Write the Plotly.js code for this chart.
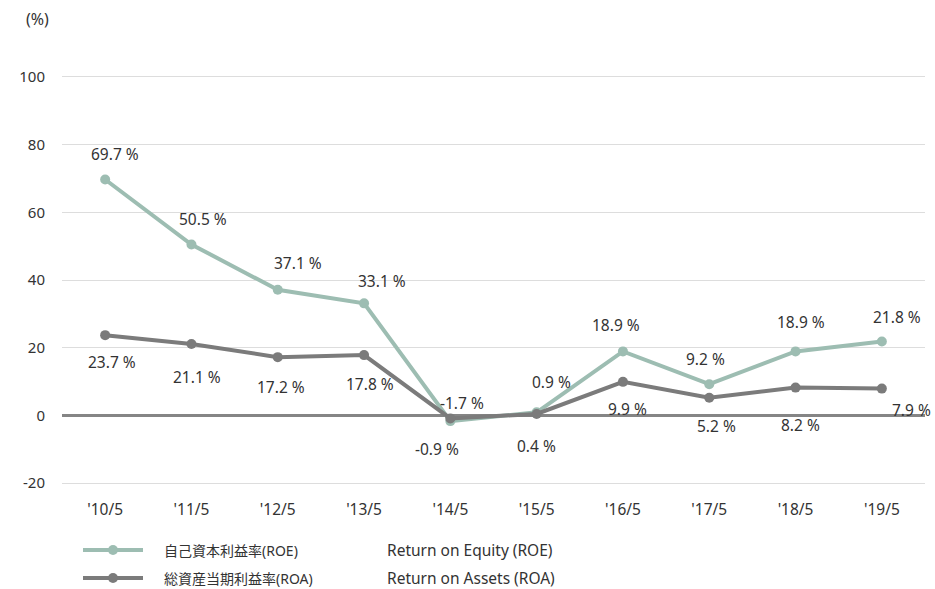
<!DOCTYPE html>
<html>
<head>
<meta charset="utf-8">
<script src="https://cdn.plot.ly/plotly-3.0.1.min.js"></script>
<style>
html,body{margin:0;padding:0;background:#fff;}
#chart{width:935px;height:589px;}
</style>
</head>
<body>
<div id="chart"></div>
<script>
// ---- data ----
const categories = ["'10/5", "'11/5", "'12/5", "'13/5", "'14/5", "'15/5", "'16/5", "'17/5", "'18/5", "'19/5"];
const roeValues = [69.7, 50.5, 37.1, 33.1, -1.7, 0.9, 18.9, 9.2, 18.9, 21.8];
const roaValues = [23.7, 21.1, 17.2, 17.8, -0.9, 0.4, 9.9, 5.2, 8.2, 7.9];
const roeNameJa = "自己資本利益率(ROE)";
const roaNameJa = "総資産当期利益率(ROA)";
const roeNameEn = "Return on Equity (ROE)";
const roaNameEn = "Return on Assets (ROA)";
const yTickValues = [-20, 0, 20, 40, 60, 80, 100];
const yTickLabels = ["-20", "0", "20", "40", "60", "80", "100"];
const yUnit = "(%)";

// ---- label offsets (px) ----
const roeLabelDx = [10, 12, 20, 18, 12, 15, -7, -4, 5, 15];
const roeLabelDy = [26, 25, 27, 22, 18, 30, 26, 25, 29, 25];
const roaLabelDx = [7, 6, 3, 6, -13, 0, 5, 7, 5, 30];
const roaLabelDy = [-27, -33, -30, -29, -31, -32, -27, -28, -37, -21];

const FONT = "'Noto Sans', 'Noto Sans CJK JP', sans-serif";
const TEXT = "#333333";
const ROE_COLOR = "#9dbdb2";
const ROA_COLOR = "#7b7b7b";

// plot area geometry (px)
const PL = 62, PR = 925, PT = 77, PB = 483;
const PW = PR - PL, PH = PB - PT;
const px2x = p => (p - PL) / PW;
const py2y = p => (PB - p) / PH;

const traces = [
  {
    type: "scatter", mode: "lines+markers", name: roeNameJa,
    x: categories, y: roeValues,
    line: {color: ROE_COLOR, width: 4},
    marker: {color: ROE_COLOR, size: 10},
    hoverinfo: "skip", cliponaxis: false
  },
  {
    type: "scatter", mode: "lines+markers", name: roaNameJa,
    x: categories, y: roaValues,
    line: {color: ROA_COLOR, width: 4},
    marker: {color: ROA_COLOR, size: 10},
    hoverinfo: "skip", cliponaxis: false
  }
];

const annotations = [];
const shapes = [];
categories.forEach((c, i) => {
  annotations.push({
    x: c, y: roeValues[i], xref: "x", yref: "y",
    text: roeValues[i].toFixed(1) + " %", showarrow: false,
    xshift: roeLabelDx[i], yshift: roeLabelDy[i],
    font: {family: FONT, size: 15.5, color: TEXT}
  });
  annotations.push({
    x: c, y: roaValues[i], xref: "x", yref: "y",
    text: roaValues[i].toFixed(1) + " %", showarrow: false,
    xshift: roaLabelDx[i], yshift: roaLabelDy[i],
    font: {family: FONT, size: 15.5, color: TEXT}
  });
});
annotations.push({
  xref: "paper", yref: "paper", x: px2x(37), y: py2y(19), xanchor: "center", yanchor: "middle",
  text: yUnit, showarrow: false,
  font: {family: FONT, size: 16, color: TEXT}
});

// manual legend
const legendRows = [
  {ja: roeNameJa, en: roeNameEn, color: ROE_COLOR, y: 550},
  {ja: roaNameJa, en: roaNameEn, color: ROA_COLOR, y: 578}
];
legendRows.forEach(r => {
  shapes.push({
    type: "line", xref: "paper", yref: "paper",
    x0: px2x(83), x1: px2x(143), y0: py2y(r.y), y1: py2y(r.y),
    line: {color: r.color, width: 4}
  });
  shapes.push({
    type: "circle", xref: "paper", yref: "paper",
    xsizemode: "pixel", ysizemode: "pixel",
    xanchor: px2x(113), yanchor: py2y(r.y),
    x0: -5, x1: 5, y0: -5, y1: 5,
    fillcolor: r.color, line: {width: 0}
  });
  annotations.push({
    xref: "paper", yref: "paper", x: px2x(162), y: py2y(r.y),
    xanchor: "left", yanchor: "middle", text: r.ja, showarrow: false,
    font: {family: FONT, size: 14, color: TEXT}
  });
  annotations.push({
    xref: "paper", yref: "paper", x: px2x(385), y: py2y(r.y),
    xanchor: "left", yanchor: "middle", text: r.en, showarrow: false,
    font: {family: FONT, size: 15.5, color: TEXT}
  });
});

const layout = {
  width: 935, height: 589,
  margin: {l: PL, r: 935 - PR, t: PT, b: 589 - PB, autoexpand: false},
  paper_bgcolor: "#ffffff", plot_bgcolor: "#ffffff",
  font: {family: FONT, color: TEXT, size: 15},
  showlegend: false,
  xaxis: {
    type: "category", range: [-0.5, 9.5], showgrid: false, zeroline: false,
    showline: true, mirror: true, linecolor: "#dddddd", linewidth: 1,
    ticks: "", ticklabelstandoff: 12,
    tickfont: {family: FONT, size: 15.5, color: TEXT}, fixedrange: true
  },
  yaxis: {
    range: [-20, 100], tickvals: yTickValues, ticktext: yTickLabels, showgrid: true,
    gridcolor: "#dddddd", gridwidth: 1,
    zeroline: true, zerolinecolor: "#858585", zerolinewidth: 2.5,
    showline: false, ticks: "", ticklabelstandoff: 16,
    tickfont: {family: FONT, size: 15, color: TEXT}, fixedrange: true
  },
  shapes: shapes,
  annotations: annotations
};

Plotly.newPlot("chart", traces, layout, {displayModeBar: false, staticPlot: true});
</script>
</body>
</html>
